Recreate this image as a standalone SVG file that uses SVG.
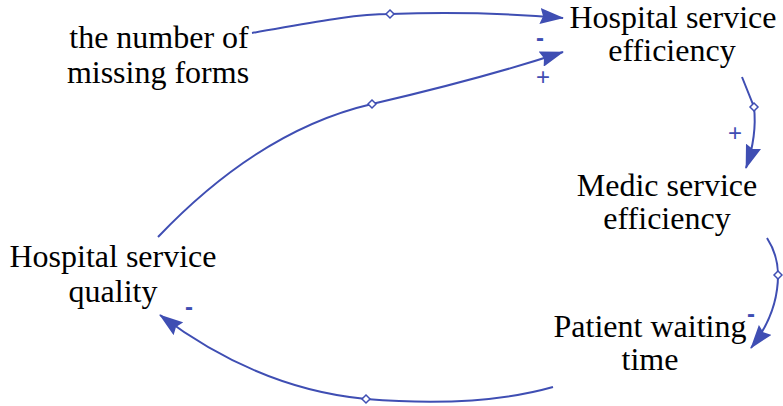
<svg xmlns="http://www.w3.org/2000/svg" width="783" height="406" viewBox="0 0 783 406">
  <style>
    .lbl { font-family: "Liberation Serif", "Times New Roman", serif; font-size: 32px; fill: #000; text-anchor: middle; }
    .link { fill: none; stroke: #3f4eb3; stroke-width: 2; marker-end: url(#head); }
    .handle { fill: #fff; stroke: #3f4eb3; stroke-width: 1.5; }
    .pol { font-family: "Liberation Sans", Arial, sans-serif; fill: #3f4eb3; text-anchor: middle; }
    .plus { font-size: 24px; }
    .minus { font-size: 24px; font-weight: bold; }
  </style>
  <defs>
    <marker id="head" markerUnits="userSpaceOnUse" markerWidth="24" markerHeight="16" refX="23" refY="8" orient="auto" viewBox="0 0 24 16">
      <path d="M0,0 L24,8 L0,16 L3,8 z" fill="#3f4eb3"/>
    </marker>
  </defs>

  <rect width="783" height="406" fill="#fff"/>

  <g id="connectors">
    <!-- missing forms -> hospital efficiency -->
    <path class="link" d="M252,33 C300,25 350,14 390,14 C450,12 505,13 563,18"/>
    <polygon class="handle" points="390,10 394,14 390,18 386,14"/>
    <!-- hospital quality -> hospital efficiency -->
    <path class="link" d="M158,237 Q260,130 372,104 T563,52"/>
    <polygon class="handle" points="372,100 376,104 372,108 368,104"/>
    <!-- hospital efficiency -> medic efficiency -->
    <path class="link" d="M742,77 L754,107 C756,125 754,145 746,168"/>
    <polygon class="handle" points="754,103 758,107 754,111 750,107"/>
    <!-- medic efficiency -> patient waiting time -->
    <path class="link" d="M767,238 Q778,255 778,275 C778,300 769,325 751,348"/>
    <polygon class="handle" points="778,271 782,275 778,279 774,275"/>
    <!-- patient waiting time -> hospital quality -->
    <path class="link" d="M553,387 C500,402 440,405 366,399 C290,392 220,360 160,315"/>
    <polygon class="handle" points="366,395 370,399 366,403 362,399"/>

    <!-- polarities -->
    <text class="pol minus" x="540" y="46">-</text>
    <text class="pol plus" x="543" y="85">+</text>
    <text class="pol plus" x="735" y="141">+</text>
    <text class="pol minus" x="751" y="322">-</text>
    <text class="pol minus" x="189" y="315">-</text>
  </g>

  <g id="missing-forms">
    <text class="lbl" x="159" y="48">the number of</text>
    <text class="lbl" x="158" y="83">missing forms</text>
  </g>
  <g id="hospital-efficiency">
    <text class="lbl" x="673" y="28">Hospital service</text>
    <text class="lbl" x="672" y="61">efficiency</text>
  </g>
  <g id="medic-efficiency">
    <text class="lbl" x="667" y="196">Medic service</text>
    <text class="lbl" x="667" y="229">efficiency</text>
  </g>
  <g id="patient-waiting">
    <text class="lbl" x="650" y="337">Patient waiting</text>
    <text class="lbl" x="650" y="370">time</text>
  </g>
  <g id="hospital-quality">
    <text class="lbl" x="113" y="267">Hospital service</text>
    <text class="lbl" x="113" y="302">quality</text>
  </g>
</svg>
